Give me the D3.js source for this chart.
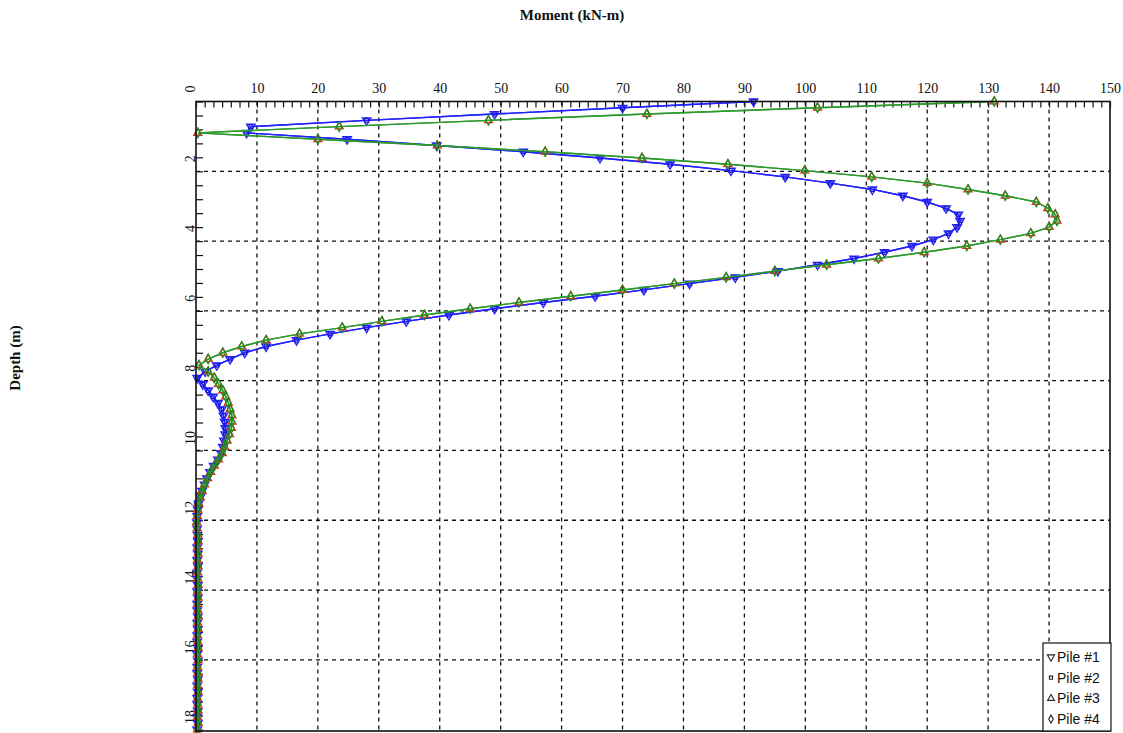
<!DOCTYPE html>
<html>
<head>
<meta charset="utf-8">
<script src="https://cdn.jsdelivr.net/npm/d3@7"></script>
<style>
  html, body { margin: 0; padding: 0; background: #ffffff; }
  svg { display: block; }
</style>
</head>
<body>
<svg id="chart" width="1123" height="733"></svg>
<script>
// Pile node depths (m)
const depths = [
  0, 0.18, 0.36, 0.54, 0.72, 0.9, 1.08, 1.26, 1.44, 1.62,
  1.8, 1.98, 2.16, 2.34, 2.52, 2.7, 2.88, 3.06, 3.24, 3.42,
  3.6, 3.78, 3.96, 4.14, 4.32, 4.5, 4.68, 4.86, 5.04, 5.22,
  5.4, 5.58, 5.76, 5.94, 6.12, 6.3, 6.48, 6.66, 6.84, 7.02,
  7.2, 7.38, 7.56, 7.74, 7.92, 8.1, 8.28, 8.46, 8.64, 8.82,
  9, 9.18, 9.36, 9.54, 9.72, 9.9, 10.08, 10.26, 10.44, 10.62,
  10.8, 10.98, 11.16, 11.34, 11.52, 11.7, 11.88, 12.06, 12.24, 12.42,
  12.6, 12.78, 12.96, 13.14, 13.32, 13.5, 13.68, 13.86, 14.04, 14.22,
  14.4, 14.58, 14.76, 14.94, 15.12, 15.3, 15.48, 15.66, 15.84, 16.02,
  16.2, 16.38, 16.56, 16.74, 16.92, 17.1, 17.28, 17.46, 17.64, 17.82,
  18
];

// Bending moment magnitude (kN-m) along piles #1 and #2
const momentPile1 = [
  91.5, 70, 49, 28, 9, 8.3, 24.8, 39.5, 53.7, 66.3,
  77.8, 87.8, 96.7, 104.1, 111.0, 116.0, 120.0, 123.1, 125.1, 125.4,
  124.9, 123.5, 121.0, 117.5, 113.0, 108.0, 102.0, 95.5, 88.5, 81.0,
  73.5, 65.5, 57.0, 49.0, 41.5, 34.5, 28.0, 22.0, 16.5, 11.5,
  8.0, 5.6, 3.4, 1.5, 0.2, 1.1, 2.0, 2.8, 3.6, 4.2,
  4.5, 4.7, 4.8, 4.8, 4.6, 4.4, 4.1, 3.6, 2.9, 2.3,
  1.8, 1.4, 1.0, 0.7, 0.45, 0.3, 0.2, 0.15, 0.2, 0.25,
  0.3, 0.2, 0.3, 0.2, 0.3, 0.2, 0.2, 0.3, 0.2, 0.3,
  0.2, 0.2, 0.3, 0.2, 0.3, 0.2, 0.2, 0.3, 0.2, 0.3,
  0.2, 0.2, 0.3, 0.2, 0.3, 0.2, 0.2, 0.3, 0.2, 0.3,
  0.2
];
const momentPile2 = momentPile1.slice();

// Bending moment magnitude (kN-m) along piles #3 and #4
const momentPile3 = [
  131, 102, 74, 48, 23.5, 0.3, 20.0, 39.6, 57.3, 73.2,
  87.3, 99.9, 110.9, 120.0, 126.7, 132.8, 137.9, 139.8, 141.0, 141.3,
  140.0, 137.0, 132.0, 126.5, 119.5, 112.0, 103.5, 95.0, 87.0, 78.5,
  70.0, 61.5, 53.0, 45.0, 37.5, 30.5, 24.0, 17.0, 11.5, 7.5,
  4.4, 2.0, 0.5, 2.0, 3.0, 3.7, 4.4, 4.9, 5.3, 5.6,
  5.9, 5.9, 5.8, 5.5, 5.1, 4.7, 4.3, 3.7, 3.0, 2.4,
  1.9, 1.4, 1.0, 0.7, 0.45, 0.3, 0.2, 0.1, 0.2, 0.3,
  0.35, 0.25, 0.35, 0.25, 0.35, 0.25, 0.3, 0.35, 0.25, 0.35,
  0.25, 0.3, 0.35, 0.25, 0.35, 0.25, 0.3, 0.35, 0.25, 0.35,
  0.25, 0.3, 0.35, 0.25, 0.35, 0.25, 0.3, 0.35, 0.25, 0.35,
  0.25
];
const momentPile4 = momentPile3.slice();

const seriesNames = ["Pile #1", "Pile #2", "Pile #3", "Pile #4"];
const momentTickLabels = [10, 20, 30, 40, 50, 60, 70, 80, 90, 100, 110, 120, 130, 140, 150];
const momentGrid = [10, 20, 30, 40, 50, 60, 70, 80, 90, 100, 110, 120, 130, 140];
const depthTickLabels = [0, 2, 4, 6, 8, 10, 12, 14, 16, 18];
const depthGrid = [2, 4, 6, 8, 10, 12, 14, 16];

// Layout
const plot = { left: 196, right: 1110, top: 101.5, bottom: 731 };
const serif = "'Liberation Serif', 'Times New Roman', serif";
const sans = "'Liberation Sans', Arial, sans-serif";

const svg = d3.select("#chart");

const x = d3.scaleLinear().domain([0, 150]).range([plot.left, plot.right]);
const y = d3.scaleLinear().domain([0, 18.04]).range([plot.top, plot.bottom]);

// Dashed grid
const grid = svg.append("g").attr("stroke", "#111").attr("stroke-width", 1.3)
  .attr("stroke-dasharray", "4,4");
grid.selectAll("line.v").data(momentGrid).join("line")
  .attr("class", "v")
  .attr("x1", d => x(d)).attr("x2", d => x(d))
  .attr("y1", plot.top).attr("y2", plot.bottom);
grid.selectAll("line.h").data(depthGrid).join("line")
  .attr("class", "h")
  .attr("x1", plot.left).attr("x2", plot.right)
  .attr("y1", d => y(d)).attr("y2", d => y(d));

// Minor ticks on the top (moment) and left (depth) axes, pointing inward
const topMinor = d3.range(0, 150.0001, 10 / 7);
svg.append("g")
  .attr("transform", `translate(0,${plot.top})`)
  .call(d3.axisTop(x).tickValues(topMinor).tickSize(-6).tickFormat(""))
  .call(g => g.select(".domain").remove())
  .call(g => g.selectAll("line").attr("stroke", "#111").attr("stroke-width", 1.2));

const leftMinor = d3.range(0, 18.0001, 0.4);
svg.append("g")
  .attr("transform", `translate(${plot.left},0)`)
  .call(d3.axisLeft(y).tickValues(leftMinor).tickSize(-7).tickFormat(""))
  .call(g => g.select(".domain").remove())
  .call(g => g.selectAll("line").attr("stroke", "#111").attr("stroke-width", 1.2));

// Moment tick labels along the top
svg.append("g")
  .attr("transform", `translate(0,${plot.top})`)
  .call(d3.axisTop(x).tickValues(momentTickLabels).tickSize(0).tickPadding(9))
  .call(g => g.select(".domain").remove())
  .call(g => g.selectAll("text")
    .style("font-family", serif)
    .style("font-size", "14px")
    .attr("fill", "#111"));

// Depth tick labels, rotated, sitting just above each tick
svg.append("g")
  .attr("transform", `translate(${plot.left},0)`)
  .call(d3.axisLeft(y).tickValues(depthTickLabels).tickSize(0).tickFormat(d3.format("d")))
  .call(g => g.select(".domain").remove())
  .call(g => g.selectAll(".tick text")
    .attr("x", null).attr("dy", null)
    .attr("text-anchor", "middle")
    .attr("transform", "translate(-1.5,-13) rotate(-90)")
    .style("font-family", serif)
    .style("font-size", "14px")
    .attr("fill", "#111"));

// Series
const series = [
  { name: seriesNames[0], values: momentPile1, line: "#2222ff", mark: "#2222ff", symbol: d3.symbolTriangle, rot: 180, size: 32 },
  { name: seriesNames[1], values: momentPile2, line: "#2222ff", mark: "#1a1ad8", symbol: d3.symbolSquare, rot: 0, size: 14 },
  { name: seriesNames[2], values: momentPile3, line: "#2e9a2e", mark: "#e0321c", symbol: d3.symbolTriangle, rot: 0, size: 28 },
  { name: seriesNames[3], values: momentPile4, line: "#2e9a2e", mark: "#1f8a1f", symbol: d3.symbolDiamond, rot: 0, size: 26 }
];

const line = d3.line()
  .x(d => x(d.m))
  .y(d => y(d.d));

series.forEach(s => {
  const pts = depths.map((d, i) => ({ d, m: s.values[i] }));
  const g = svg.append("g");
  g.append("path")
    .datum(pts)
    .attr("fill", "none")
    .attr("stroke", s.line)
    .attr("stroke-width", 1.4)
    .attr("d", line);
  g.selectAll("path.mk").data(pts).join("path")
    .attr("class", "mk")
    .attr("d", d3.symbol().type(s.symbol).size(s.size))
    .attr("transform", d => `translate(${x(d.m)},${y(d.d)}) rotate(${s.rot})`)
    .attr("fill", "none")
    .attr("stroke", s.mark)
    .attr("stroke-width", 1.3);
});

// Plot frame
svg.append("rect")
  .attr("x", plot.left).attr("y", plot.top)
  .attr("width", plot.right - plot.left)
  .attr("height", plot.bottom - plot.top)
  .attr("fill", "none")
  .attr("stroke", "#111")
  .attr("stroke-width", 1.6);

// Axis titles
svg.append("text")
  .attr("x", 572).attr("y", 19.5)
  .attr("text-anchor", "middle")
  .style("font-family", serif)
  .style("font-size", "15px")
  .style("font-weight", "bold")
  .attr("fill", "#111")
  .text("Moment (kN-m)");

svg.append("text")
  .attr("transform", "translate(20,358) rotate(-90)")
  .attr("text-anchor", "middle")
  .style("font-family", serif)
  .style("font-size", "15px")
  .style("font-weight", "bold")
  .attr("fill", "#111")
  .text("Depth (m)");

// Legend
const legend = svg.append("g").attr("transform", "translate(1043,643)");
legend.append("rect")
  .attr("width", 68).attr("height", 88)
  .attr("fill", "#fff")
  .attr("stroke", "#111")
  .attr("stroke-width", 1.2);
const items = legend.selectAll("g.item").data(series).join("g")
  .attr("class", "item")
  .attr("transform", (d, i) => `translate(0,${14 + i * 20.7})`);
items.append("path")
  .attr("d", d => d3.symbol().type(d.symbol).size(d.size * 0.7)())
  .attr("transform", d => `translate(8,0) rotate(${d.rot})`)
  .attr("fill", "none")
  .attr("stroke", "#222")
  .attr("stroke-width", 1.1);
items.append("text")
  .attr("x", 14).attr("y", 5)
  .style("font-family", sans)
  .style("font-size", "14px")
  .attr("fill", "#111")
  .text(d => d.name);
</script>
</body>
</html>
